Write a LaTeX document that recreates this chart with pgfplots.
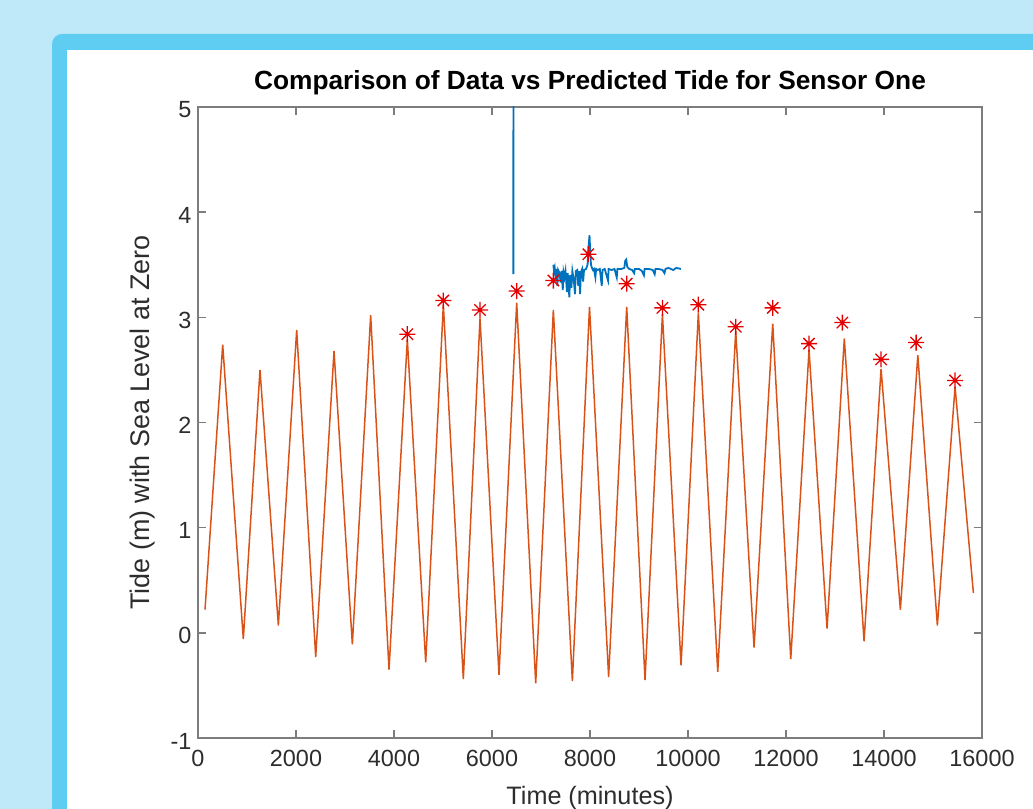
\documentclass[border=0pt]{standalone}
\usepackage{pgfplots}
\pgfplotsset{compat=1.18}
\usepackage{fontspec}
\setmainfont{Liberation Sans}

\definecolor{bgblue}{RGB}{191,233,249}
\definecolor{frameblue}{RGB}{95,205,242}
\definecolor{mlblue}{RGB}{0,114,189}
\definecolor{mlorange}{RGB}{217,83,25}
\definecolor{axgray}{RGB}{125,125,125}
\definecolor{txtgray}{RGB}{45,45,45}

% MATLAB style '*' marker (8 spokes)
\pgfdeclareplotmark{mstar}{%
  \pgfpathmoveto{\pgfqpoint{-\pgfplotmarksize}{0pt}}\pgfpathlineto{\pgfqpoint{\pgfplotmarksize}{0pt}}%
  \pgfpathmoveto{\pgfqpoint{0pt}{-\pgfplotmarksize}}\pgfpathlineto{\pgfqpoint{0pt}{\pgfplotmarksize}}%
  \pgfpathmoveto{\pgfqpoint{-0.7071\pgfplotmarksize}{-0.7071\pgfplotmarksize}}\pgfpathlineto{\pgfqpoint{0.7071\pgfplotmarksize}{0.7071\pgfplotmarksize}}%
  \pgfpathmoveto{\pgfqpoint{-0.7071\pgfplotmarksize}{0.7071\pgfplotmarksize}}\pgfpathlineto{\pgfqpoint{0.7071\pgfplotmarksize}{-0.7071\pgfplotmarksize}}%
  \pgfusepathqstroke}

\begin{document}
\begin{tikzpicture}
% page background and frame
\fill[bgblue] (0bp,0bp) rectangle (1033bp,809bp);
\fill[frameblue, rounded corners=10bp] (52bp,-30bp) rectangle (1080bp,775bp);
\fill[white] (67bp,-30bp) rectangle (1080bp,759bp);

\begin{axis}[
    at={(198bp,71bp)}, anchor=south west,
    scale only axis, width=784bp, height=631bp,
    xmin=0, xmax=16000, ymin=-1, ymax=5,
    xtick={0,2000,...,16000},
    xticklabels={0,2000,4000,6000,8000,10000,12000,14000,16000},
    scaled x ticks=false,
    ytick={-1,0,1,2,3,4,5},
    yticklabels={-1,0,1,2,3,4,5},
    tick pos=both, tick align=inside,
    major tick length=8bp,
    axis line style={axgray, line width=2bp},
    tick style={axgray, line width=1.5bp},
    tick label style={font=\fontsize{23.5}{28}\selectfont, text=txtgray},
    xticklabel style={yshift=-9bp},
    yticklabel style={xshift=-3bp, yshift=-3bp},
    title={Comparison of Data vs Predicted Tide for Sensor One},
    title style={font=\bfseries\fontsize{26.4}{31}\selectfont, anchor=base, at={(axis description cs:0.5,1)}, yshift=12bp},
    xlabel={Time (minutes)},
    xlabel style={font=\fontsize{25.3}{30}\selectfont, text=txtgray, anchor=base, at={(axis description cs:0.5,0)}, yshift=-66bp},
    ylabel={Tide (m) with Sea Level at Zero},
    ylabel style={font=\fontsize{27}{32}\selectfont, text=txtgray, anchor=center, at={(axis description cs:-0.0702,0.5)}},
]
% predicted tide
\addplot[mlorange, line width=1.5bp] coordinates {
(143,0.22) (504,2.74) (925,-0.06) (1265,2.50) (1640,0.07) (2014,2.88)
(2402,-0.23) (2776,2.68) (3150,-0.11) (3524,3.02) (3898,-0.35) (4272,2.79)
(4647,-0.28) (5007,3.12) (5415,-0.44) (5755,2.99) (6143,-0.40) (6504,3.14)
(6892,-0.48) (7252,3.07) (7640,-0.46) (7990,3.10) (8380,-0.42) (8749,3.10)
(9123,-0.45) (9478,3.03) (9858,-0.31) (10211,3.04) (10607,-0.37) (10974,2.87)
(11348,-0.14) (11729,2.94) (12097,-0.25) (12470,2.69) (12838,0.04) (13190,2.80)
(13593,-0.08) (13940,2.51) (14334,0.22) (14690,2.64) (15089,0.07) (15450,2.34)
(15824,0.38)
};
% sensor data: spike
\addplot[mlblue, line width=1.8bp] coordinates {(6436,3.41) (6437,5.6)};
% sensor data: record
\addplot[mlblue, line width=1.8bp] coordinates {
(7252,3.50) (7265,3.44) (7280,3.47) (7300,3.36) (7315,3.46) (7335,3.30)
(7350,3.45) (7380,3.42) (7400,3.33) (7420,3.44) (7444,3.26) (7460,3.43)
(7480,3.38) (7500,3.44) (7530,3.24) (7545,3.42) (7578,3.19) (7595,3.40)
(7620,3.28) (7640,3.44) (7670,3.35) (7694,3.22) (7710,3.44) (7740,3.45)
(7760,3.30) (7780,3.44) (7797,3.22) (7815,3.43) (7840,3.46) (7860,3.34)
(7878,3.45) (7920,3.46) (7950,3.50) (7975,3.70) (7990,3.78) (8005,3.62)
(8020,3.50) (8040,3.47) (8060,3.45) (8080,3.46) (8110,3.38) (8125,3.46)
(8160,3.45) (8200,3.46) (8240,3.30) (8255,3.45) (8300,3.46) (8368,3.35)
(8380,3.46) (8440,3.45) (8500,3.46) (8546,3.38) (8560,3.46) (8640,3.46)
(8700,3.47) (8720,3.54) (8740,3.55) (8760,3.48) (8800,3.46) (8860,3.45)
(8900,3.42) (8915,3.46) (9000,3.46) (9060,3.44) (9100,3.40) (9115,3.46)
(9200,3.46) (9280,3.45) (9320,3.41) (9335,3.46) (9400,3.46) (9480,3.45)
(9520,3.42) (9540,3.46) (9600,3.47) (9700,3.45) (9760,3.47) (9858,3.46)
};
% observed high tides
\addplot[only marks, mark=mstar, mark size=8bp, red!90!black, line width=1.3bp] coordinates {
(4272,2.84) (5007,3.16) (5755,3.07) (6504,3.25) (7252,3.35) (7966,3.60)
(8749,3.32) (9478,3.09) (10211,3.12) (10974,2.91) (11729,3.09) (12470,2.75)
(13150,2.95) (13940,2.60) (14655,2.76) (15450,2.40)
};
\end{axis}
\pgfresetboundingbox
\useasboundingbox (0bp,0bp) rectangle (1033bp,809bp);
\end{tikzpicture}
\end{document}
